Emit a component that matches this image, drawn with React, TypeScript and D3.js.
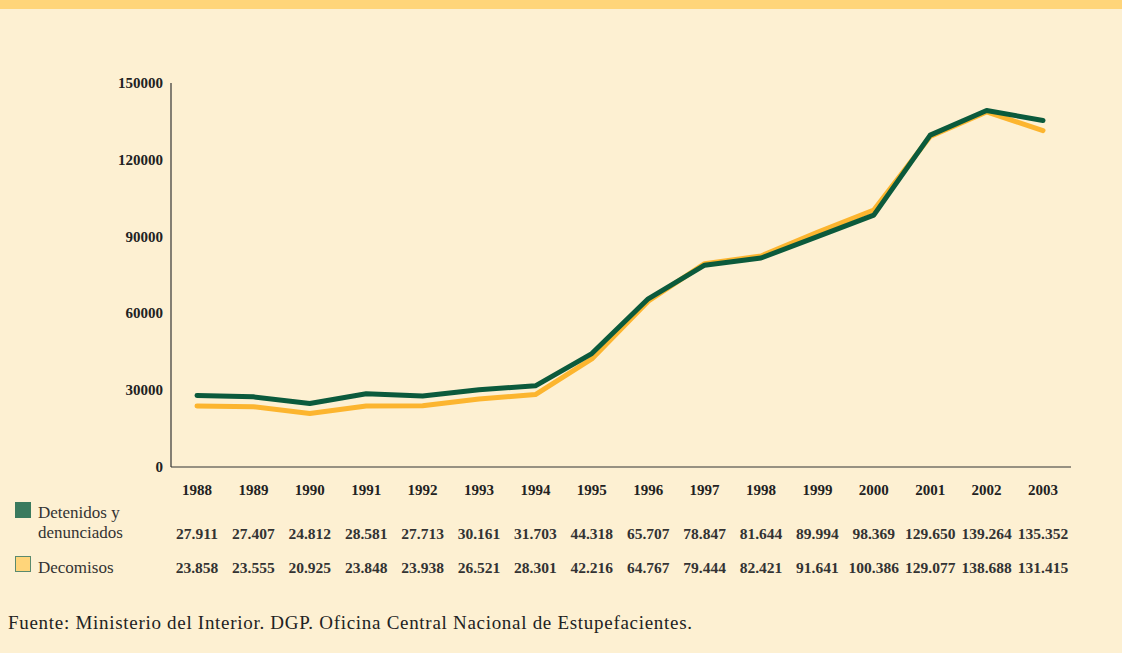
import React from "react";
import * as d3 from "d3";

const years = [1988, 1989, 1990, 1991, 1992, 1993, 1994, 1995, 1996, 1997, 1998, 1999, 2000, 2001, 2002, 2003];
const detenidos = [27911, 27407, 24812, 28581, 27713, 30161, 31703, 44318, 65707, 78847, 81644, 89994, 98369, 129650, 139264, 135352];
const decomisos = [23858, 23555, 20925, 23848, 23938, 26521, 28301, 42216, 64767, 79444, 82421, 91641, 100386, 129077, 138688, 131415];
const yTicks = [0, 30000, 60000, 90000, 120000, 150000];
const source = "Fuente: Ministerio del Interior. DGP. Oficina Central Nacional de Estupefacientes.";

const W = 1122, H = 653;
const BG = "#FDF0D2";
const BAND = "#FFD57A";
const GREEN = "#0B5A3C";
const ORANGE = "#FCB52F";
const FONT = "'Liberation Serif', 'DejaVu Serif', serif";

const fmt = (v: number) => d3.format(",")(v).replace(/,/g, ".");

export default function App() {
  const x = d3.scaleLinear().domain([1988, 2003]).range([197, 1043]);
  const y = d3.scaleLinear().domain([0, 150000]).range([467, 83]);
  const line = (vals: number[]) =>
    d3.line<number>().x((_, i) => x(years[i])).y((v) => y(v))(vals) || "";

  return (
    <svg width={W} height={H} style={{ display: "block", position: "absolute", left: 0, top: 0 }} fontFamily={FONT}>
      <rect x={0} y={0} width={W} height={H} fill={BG} />
      <rect x={0} y={0} width={W} height={9} fill={BAND} />

      {/* axes */}
      <line x1={171} x2={171} y1={83} y2={467} stroke="#333" strokeWidth={1.2} />
      <line x1={171} x2={1071} y1={467} y2={467} stroke="#333" strokeWidth={1.2} />
      {yTicks.map((t) => (
        <text key={t} x={163} y={y(t) + 5} textAnchor="end" fontSize={15} fontWeight="bold" fill="#222">
          {t}
        </text>
      ))}

      <path d={line(decomisos)} fill="none" stroke={ORANGE} strokeWidth={5} strokeLinejoin="round" strokeLinecap="round" />
      <path d={line(detenidos)} fill="none" stroke={GREEN} strokeWidth={5} strokeLinejoin="round" strokeLinecap="round" />

      {years.map((yr, i) => (
        <g key={yr}>
          <text x={x(yr)} y={495} textAnchor="middle" fontSize={15} fontWeight="bold" fill="#222">{yr}</text>
          <text x={x(yr)} y={539} textAnchor="middle" fontSize={15.5} fontWeight="bold" fill="#333">{fmt(detenidos[i])}</text>
          <text x={x(yr)} y={573} textAnchor="middle" fontSize={15.5} fontWeight="bold" fill="#333">{fmt(decomisos[i])}</text>
        </g>
      ))}

      {/* legend */}
      <rect x={15} y={502} width={16} height={16} fill="#3A7A5E" />
      <text x={38} y={518} fontSize={17} fill="#333">Detenidos y</text>
      <text x={38} y={538} fontSize={17} fill="#333">denunciados</text>
      <rect x={15.5} y={556.5} width={15} height={15} fill="#FFD57A" stroke="#5A8A6E" strokeWidth={1} />
      <text x={38} y={573} fontSize={17} fill="#333">Decomisos</text>

      <text x={8} y={629} fontSize={19} fill="#222" textLength={684} lengthAdjust="spacing">{source}</text>
    </svg>
  );
}
